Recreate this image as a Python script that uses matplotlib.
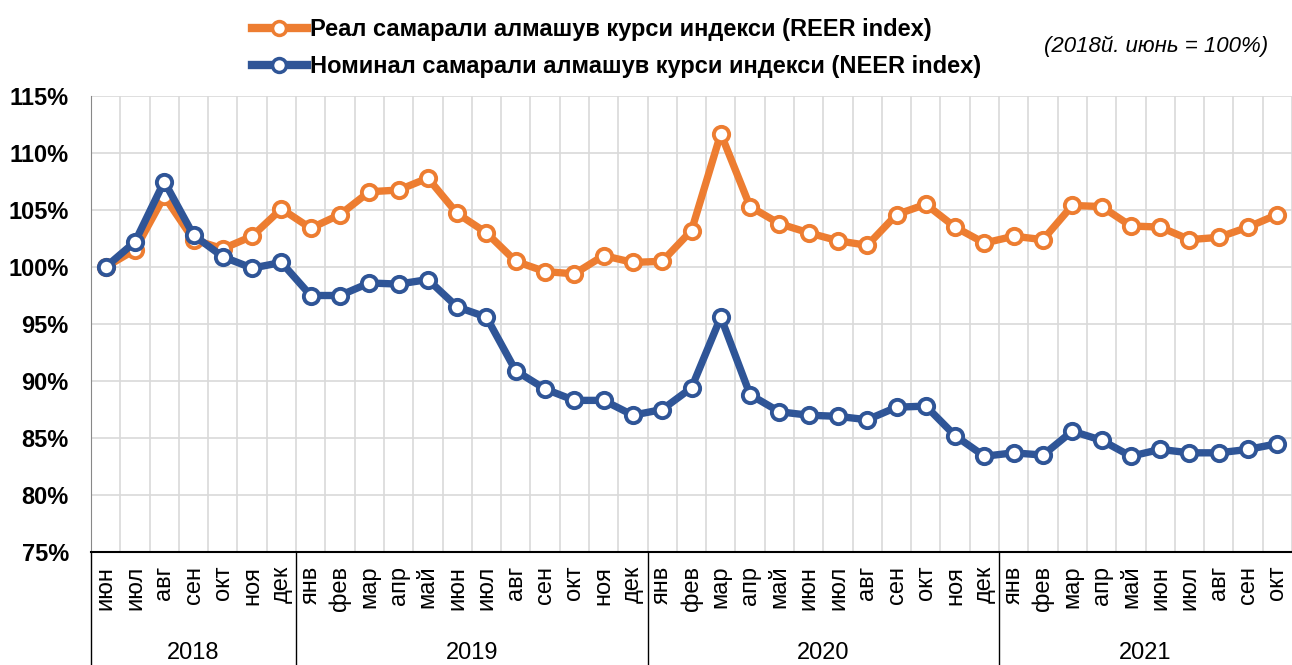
import matplotlib
matplotlib.use("Agg")
from matplotlib import pyplot as plt
from matplotlib.lines import Line2D

plt.rcParams['font.family'] = ['Liberation Sans', 'DejaVu Sans']

# monthly labels, Jun 2018 .. Oct 2021
months = ["июн", "июл", "авг", "сен", "окт", "ноя", "дек",
          "янв", "фев", "мар", "апр", "май", "июн", "июл", "авг", "сен", "окт", "ноя", "дек",
          "янв", "фев", "мар", "апр", "май", "июн", "июл", "авг", "сен", "окт", "ноя", "дек",
          "янв", "фев", "мар", "апр", "май", "июн", "июл", "авг", "сен", "окт"]
years = ["2018", "2019", "2020", "2021"]
year_counts = [7, 12, 12, 10]

reer = [100.0, 101.5, 106.2, 102.4, 101.6, 102.7, 105.1,
        103.4, 104.6, 106.6, 106.75, 107.8, 104.7, 103.0, 100.5, 99.6, 99.4, 101.0, 100.4,
        100.5, 103.2, 111.7, 105.3, 103.8, 103.0, 102.3, 101.9, 104.6, 105.5, 103.5, 102.1,
        102.7, 102.4, 105.4, 105.3, 103.6, 103.5, 102.4, 102.6, 103.5, 104.6]
neer = [100.0, 102.2, 107.5, 102.8, 100.9, 99.9, 100.4,
        97.5, 97.5, 98.6, 98.5, 98.9, 96.5, 95.6, 90.9, 89.3, 88.3, 88.3, 87.0,
        87.5, 89.4, 95.6, 88.8, 87.3, 87.0, 86.9, 86.6, 87.7, 87.8, 85.2, 83.4,
        83.7, 83.5, 85.6, 84.8, 83.4, 84.0, 83.7, 83.7, 84.0, 84.5]

c_reer = '#ED7D31'
c_neer = '#2F5597'

fig = plt.figure(figsize=(12.92, 6.65), dpi=100)
ax = fig.add_axes([91/1292, 1-552/665, 1-91/1292, 456/665])

x = list(range(len(months)))
style = dict(lw=5.3, marker='o', ms=11, mfc='white', mew=2.8, solid_joinstyle='round')
ax.plot(x, reer, color=c_reer, mec=c_reer, zorder=3, **style)
ax.plot(x, neer, color=c_neer, mec=c_neer, zorder=4, **style)

ax.set_ylim(75, 115)
ax.set_xlim(-0.5, 40.35)
ax.set_yticks(range(75, 116, 5))
ax.set_yticklabels([f"{v}%" for v in range(75, 116, 5)], fontsize=17, fontweight='bold')
ax.set_xticks([i - 0.5 for i in range(len(months) + 1)])
ax.set_xticklabels([])
ax.tick_params(length=0)
ax.tick_params(axis='y', pad=16)
ax.grid(True, color='#d9d9d9', lw=1.2, zorder=0)
ax.set_axisbelow(True)
for s in ['top', 'right']:
    ax.spines[s].set_visible(False)
ax.spines['left'].set_color('#888888')
ax.spines['bottom'].set_color('black')
ax.spines['bottom'].set_linewidth(1.5)

# multi-level category axis
trans = ax.get_xaxis_transform()
for i, m in enumerate(months):
    ax.text(i, -0.03, m, transform=trans, rotation=90, ha='center', va='top',
            fontsize=17)
start = 0
seps = [-0.5]
for yr, n in zip(years, year_counts):
    mid = start + (n - 1) / 2
    ax.text(mid, -0.222, yr, transform=trans, ha='center', va='center', fontsize=17)
    start += n
    seps.append(start - 0.5)
for sx in seps[:-1]:
    ax.plot([sx, sx], [0, -0.26], transform=trans, color='black', lw=1, clip_on=False)

# legend
handles = [Line2D([], [], color=c_reer, mec=c_reer, lw=6, marker='o', ms=10,
                  mfc='white', mew=2.5),
           Line2D([], [], color=c_neer, mec=c_neer, lw=6, marker='o', ms=10,
                  mfc='white', mew=2.5)]
labels = ["Реал самарали алмашув курси индекси (REER index)",
          "Номинал самарали алмашув курси индекси (NEER index)"]
fig.legend(handles, labels, loc='upper left', bbox_to_anchor=(231/1292, 1+3/665),
           frameon=False, handlelength=2.3, handletextpad=0.15, labelspacing=0.6,
           prop={'size': 17, 'weight': 'bold'})
fig.text(1268/1292, 1-46/665, "(2018й. июнь = 100%)", ha='right', va='center',
         fontsize=16, style='italic')

plt.savefig("out.png", dpi=100)
